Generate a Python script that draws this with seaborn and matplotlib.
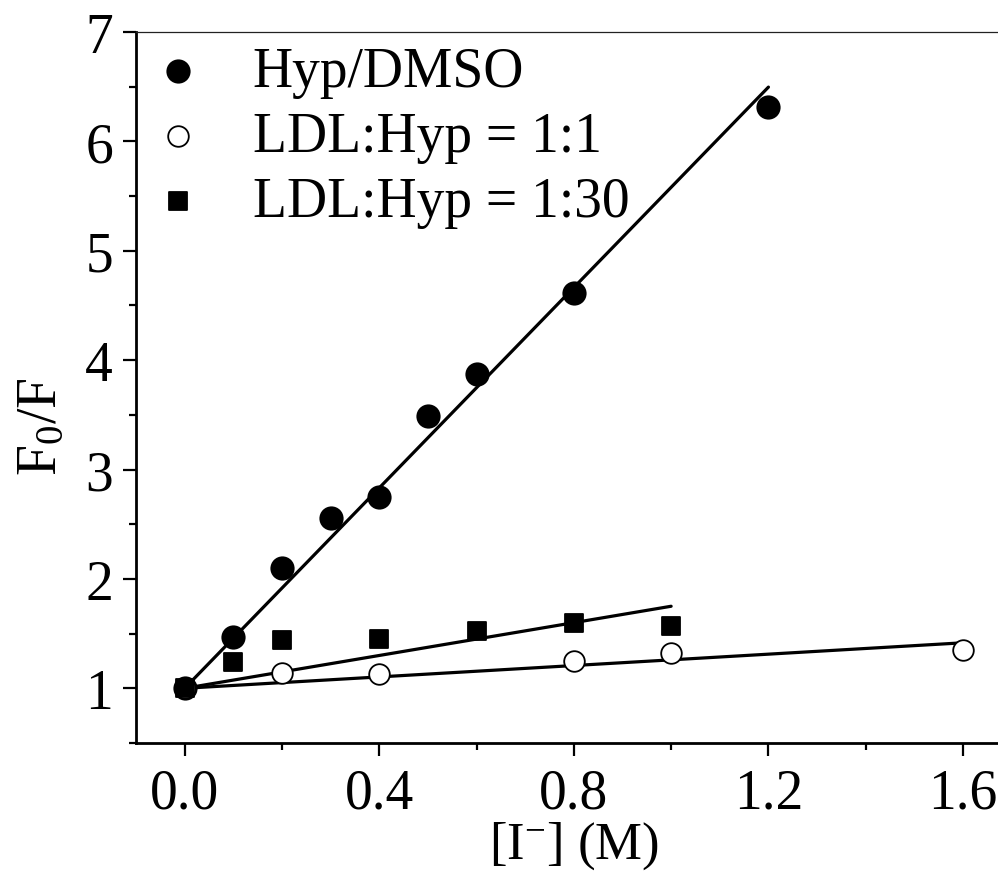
import matplotlib

matplotlib.use("Agg")
import matplotlib.pyplot as plt
import numpy as np
import pandas as pd
import seaborn as sns
from matplotlib.ticker import MultipleLocator

# Stern-Volmer data
hyp_x = [0.0, 0.1, 0.2, 0.3, 0.4, 0.5, 0.6, 0.8, 1.2]
hyp_y = [1.00, 1.47, 2.10, 2.56, 2.75, 3.49, 3.87, 4.61, 6.31]

ldl1_x = [0.0, 0.2, 0.4, 0.8, 1.0, 1.6]
ldl1_y = [1.00, 1.14, 1.13, 1.25, 1.32, 1.35]

ldl30_x = [0.0, 0.1, 0.2, 0.4, 0.6, 0.8, 1.0]
ldl30_y = [1.00, 1.24, 1.44, 1.45, 1.52, 1.60, 1.57]

labels = ["Hyp/DMSO", "LDL:Hyp = 1:1", "LDL:Hyp = 1:30"]

# linear fits drawn in the figure: slope, intercept, x range end
fit_slopes = [4.58, 0.26, 0.75]
fit_intercepts = [1.0, 1.0, 1.0]
fit_x_end = [1.2, 1.6, 1.0]

sns.set_theme(style="ticks")
plt.rcParams["font.family"] = ["Liberation Serif", "DejaVu Serif"]
plt.rcParams["mathtext.fontset"] = "custom"
plt.rcParams["mathtext.rm"] = "Liberation Serif"
plt.rcParams["mathtext.it"] = "Liberation Serif:italic"
plt.rcParams["text.color"] = "black"
plt.rcParams["axes.labelcolor"] = "black"

fig = plt.figure(figsize=(9.98, 8.79), dpi=100)
ax = fig.add_axes([0.1363, 0.1536, 0.8774, 0.8089])

for slope, icpt, xend in zip(fit_slopes, fit_intercepts, fit_x_end):
    xs = np.array([0.0, xend])
    ax.plot(xs, icpt + slope * xs, color="black", lw=2.3, zorder=2)

frames = [
    (hyp_x, hyp_y, labels[0], "o", "black", 260),
    (ldl1_x, ldl1_y, labels[1], "o", "white", 220),
    (ldl30_x, ldl30_y, labels[2], "s", "black", 185),
]
for xs, ys, lab, mk, fc, size in frames:
    df = pd.DataFrame({"x": xs, "y": ys})
    sns.scatterplot(
        data=df, x="x", y="y", ax=ax, marker=mk, s=size,
        color=fc, edgecolor="black", linewidth=1.3, label=lab, zorder=3,
    )

ax.set_xlim(-0.1, 1.7)
ax.set_ylim(0.5, 7)
ax.xaxis.set_major_locator(MultipleLocator(0.4))
ax.xaxis.set_minor_locator(MultipleLocator(0.2))
ax.yaxis.set_major_locator(MultipleLocator(1))
ax.yaxis.set_minor_locator(MultipleLocator(0.5))
ax.set_xticks([0.0, 0.4, 0.8, 1.2, 1.6])
ax.set_xticklabels(["0.0", "0.4", "0.8", "1.2", "1.6"])
ax.set_yticks([1, 2, 3, 4, 5, 6, 7])
ax.set_yticklabels(["1", "2", "3", "4", "5", "6", "7"])

ax.tick_params(which="major", direction="out", length=9.5, width=1.6,
               labelsize=40, pad=7, color="black", labelcolor="black")
ax.tick_params(which="minor", direction="out", length=5, width=1.6, color="black")
ax.tick_params(axis="x", which="major", pad=8)

for side in ["left", "bottom"]:
    ax.spines[side].set_linewidth(2.0)
    ax.spines[side].set_color("black")
ax.spines["top"].set_linewidth(0.9)
ax.spines["top"].set_color("#222222")
ax.spines["right"].set_visible(False)

ax.set_xlabel(r"[I$^{\mathrm{-}}$] (M)", fontsize=38)
ax.set_ylabel(r"F$_{\mathrm{0}}$/F", fontsize=40)
ax.xaxis.set_label_coords(0.5, -0.108)
ax.yaxis.set_label_coords(-0.078, 0.446)

ax.legend(
    loc="upper left", frameon=False, fontsize=40, handlelength=1.0,
    handletextpad=0.85, labelspacing=0.235, borderpad=0.0, borderaxespad=0.25,
)

fig.savefig("out.png", dpi=100)
